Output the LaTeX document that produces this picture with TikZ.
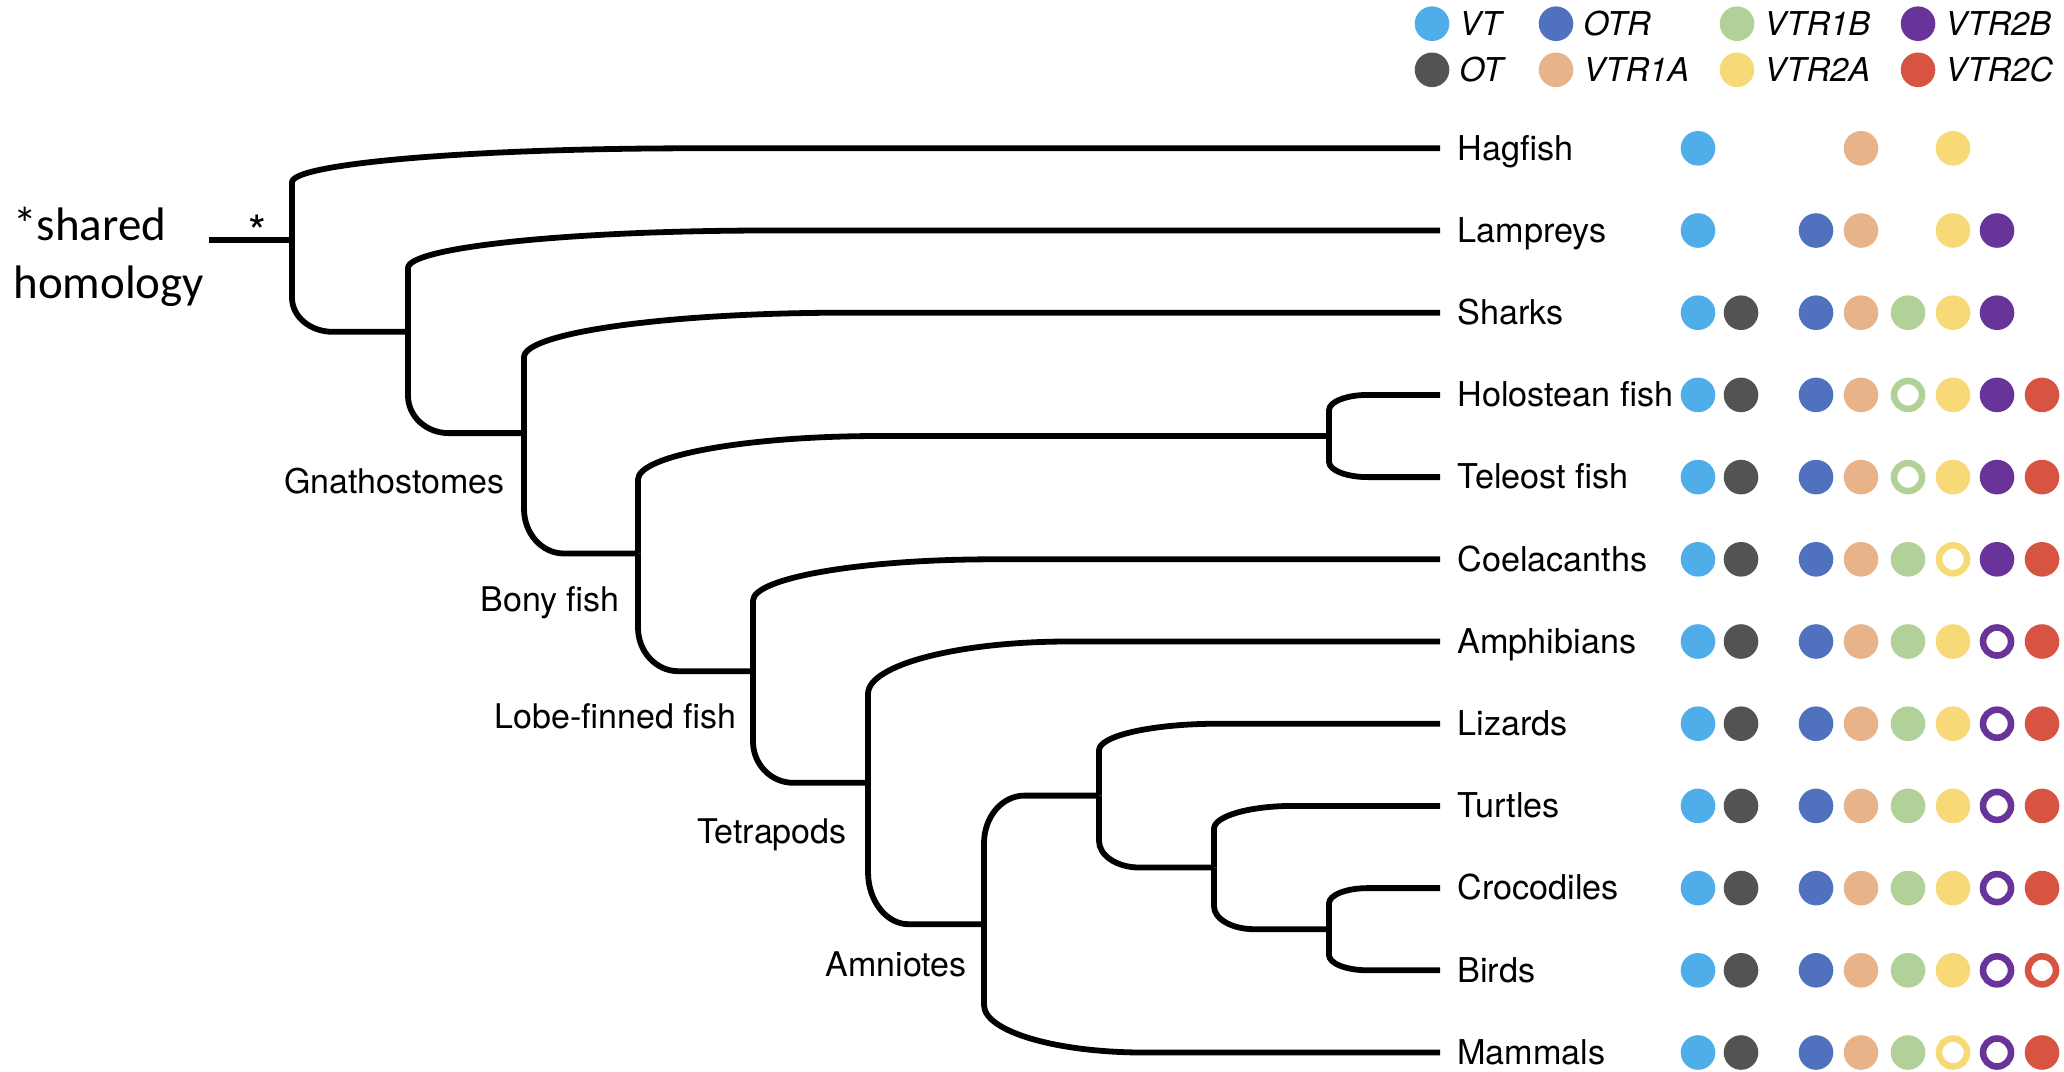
\documentclass[tikz,border=0pt]{standalone}
\usepackage{fontspec}
\newfontfamily\helv{TeX Gyre Heros}
\newfontfamily\calfont{Carlito}
\usetikzlibrary{calc}
\definecolor{gc1}{HTML}{4FAEEA}
\definecolor{gc2}{HTML}{535353}
\definecolor{gc3}{HTML}{5072BE}
\definecolor{gc4}{HTML}{E9B38A}
\definecolor{gc5}{HTML}{B1D198}
\definecolor{gc6}{HTML}{F8D978}
\definecolor{gc7}{HTML}{69349A}
\definecolor{gc8}{HTML}{D75443}
\newcommand\brch[2]{%
  \draw[branch] let \p1=(#1), \p2=(#2) in
    (\p1) -- (\x1,{\y2+0.37*(\y1-\y2)})
    .. controls (\x1,{\y2+0.166*(\y1-\y2)}) and ({\x1+0.157*(\x2-\x1)},\y2)
    .. ({\x1+0.35*(\x2-\x1)},\y2) -- (\p2);}
\begin{document}
\begin{tikzpicture}[x=0.5pt,y=-0.5pt,
  branch/.style={line width=2.9pt, line join=round},
  leaflab/.style={anchor=base west, inner sep=0pt, font=\helv\fontsize{17.1pt}{20pt}\selectfont},
  cladelab/.style={anchor=base east, inner sep=0pt, font=\helv\fontsize{17pt}{20pt}\selectfont},
  leglab/.style={anchor=base west, inner sep=0pt, font=\helv\itshape\fontsize{16.4pt}{20pt}\selectfont},
  dotF/.style={circle, inner sep=0pt, minimum size=17.3pt, fill=gc#1},
  dotO/.style={circle, inner sep=0pt, minimum size=14pt, draw=gc#1, line width=3.3pt},
  homol/.style={anchor=base west, inner sep=0pt, font=\calfont\fontsize{23.5pt}{28pt}\selectfont}
]
\fill[white] (0,0) rectangle (2064,1071);
\useasboundingbox (0,0) rectangle (2064,1071);

% internal nodes
\coordinate (stub) at (209,240);
\coordinate (nRoot) at (292,240);
\coordinate (nVert) at (408,331.8);
\coordinate (nGna) at (524,433.1);
\coordinate (nBony) at (638,553.5);
\coordinate (nHT) at (1329,436.0);
\coordinate (nLobe) at (753,671.2);
\coordinate (nTet) at (868,782.8);
\coordinate (nAmn) at (984,924.2);
\coordinate (nSau) at (1099,795.6);
\coordinate (nTCB) at (1214,867.5);
\coordinate (nCB) at (1329,929.2);
% leaf tips
\coordinate (tHag) at (1440,148.3);
\coordinate (tLam) at (1440,230.5);
\coordinate (tSha) at (1440,312.7);
\coordinate (tHol) at (1440,394.9);
\coordinate (tTel) at (1440,477.1);
\coordinate (tCoe) at (1440,559.3);
\coordinate (tAmp) at (1440,641.5);
\coordinate (tLiz) at (1440,723.7);
\coordinate (tTur) at (1440,805.9);
\coordinate (tCro) at (1440,888.1);
\coordinate (tBir) at (1440,970.3);
\coordinate (tMam) at (1440,1052.5);

% branches
\draw[branch] (stub) -- (nRoot);
\brch{nRoot}{tHag}
\brch{nRoot}{nVert}
\brch{nVert}{tLam}
\brch{nVert}{nGna}
\brch{nGna}{tSha}
\brch{nGna}{nBony}
\brch{nBony}{nHT}
\brch{nBony}{nLobe}
\brch{nHT}{tHol}
\brch{nHT}{tTel}
\brch{nLobe}{tCoe}
\brch{nLobe}{nTet}
\brch{nTet}{tAmp}
\brch{nTet}{nAmn}
\brch{nAmn}{nSau}
\brch{nAmn}{tMam}
\brch{nSau}{tLiz}
\brch{nSau}{nTCB}
\brch{nTCB}{tTur}
\brch{nTCB}{nCB}
\brch{nCB}{tCro}
\brch{nCB}{tBir}

% leaf labels
\node[leaflab] (lHag) at ($(tHag)+(17,11.8)$) {Hagfish};
\node[leaflab] (lLam) at ($(tLam)+(17,11.8)$) {Lampreys};
\node[leaflab] (lSha) at ($(tSha)+(17,11.8)$) {Sharks};
\node[leaflab] (lHol) at ($(tHol)+(17,11.8)$) {Holostean fish};
\node[leaflab] (lTel) at ($(tTel)+(17,11.8)$) {Teleost fish};
\node[leaflab] (lCoe) at ($(tCoe)+(17,11.8)$) {Coelacanths};
\node[leaflab] (lAmp) at ($(tAmp)+(17,11.8)$) {Amphibians};
\node[leaflab] (lLiz) at ($(tLiz)+(17,11.8)$) {Lizards};
\node[leaflab] (lTur) at ($(tTur)+(17,11.8)$) {Turtles};
\node[leaflab] (lCro) at ($(tCro)+(17,11.8)$) {Crocodiles};
\node[leaflab] (lBir) at ($(tBir)+(17,11.8)$) {Birds};
\node[leaflab] (lMam) at ($(tMam)+(17,11.8)$) {Mammals};

% clade labels
\node[cladelab] (lGna) at (505,493.3) {Gnathostomes};
\node[cladelab] (lBony) at (620,611.7) {Bony fish};
\node[cladelab] (lLobe) at (737,728.3) {Lobe-finned fish};
\node[cladelab] (lTet) at (847,843.3) {Tetrapods};
\node[cladelab] (lAmn) at (967,976.7) {Amniotes};

% shared homology
\node[homol] (sh1) at (13,240) {*shared};
\node[homol] (sh2) at (13,298.3) {homology};
\node[anchor=base, inner sep=0pt, font=\helv\fontsize{23pt}{26pt}\selectfont] (ast) at (257,248) {*};

% dots
\foreach \yy/\codes [count=\r] in {
  148.3/{F,N,N,F,N,F,N,N},
  230.5/{F,N,F,F,N,F,F,N},
  312.7/{F,F,F,F,F,F,F,N},
  394.9/{F,F,F,F,O,F,F,F},
  477.1/{F,F,F,F,O,F,F,F},
  559.3/{F,F,F,F,F,O,F,F},
  641.5/{F,F,F,F,F,F,O,F},
  723.7/{F,F,F,F,F,F,O,F},
  805.9/{F,F,F,F,F,F,O,F},
  888.1/{F,F,F,F,F,F,O,F},
  970.3/{F,F,F,F,F,F,O,O},
  1052.5/{F,F,F,F,F,O,O,F}}{
  \foreach \c [count=\i] in \codes {
    \pgfmathsetmacro\xx{{1698,1741,1816,1861,1908,1953,1997,2042}[\i-1]}
    \if\c F\node[dotF=\i] (d\r-\i) at (\xx,\yy) {};\fi
    \if\c O\node[dotO=\i] (d\r-\i) at (\xx,\yy) {};\fi
  }
}

% legend
\foreach \lx/\ly/\ci/\nm in {1432/23.7/1/VT, 1432/69.8/2/OT, 1556/23.7/3/OTR, 1556/69.8/4/VTR1A,
  1737/23.7/5/VTR1B, 1737/69.8/6/VTR2A, 1918/23.7/7/VTR2B, 1918/69.8/8/VTR2C}{
  \node[dotF=\ci] (lg\nm) at (\lx,\ly) {};
  \node[leglab] (lt\nm) at ($(\lx,\ly)+(27,12)$) {\nm};
}
\end{tikzpicture}
\end{document}
